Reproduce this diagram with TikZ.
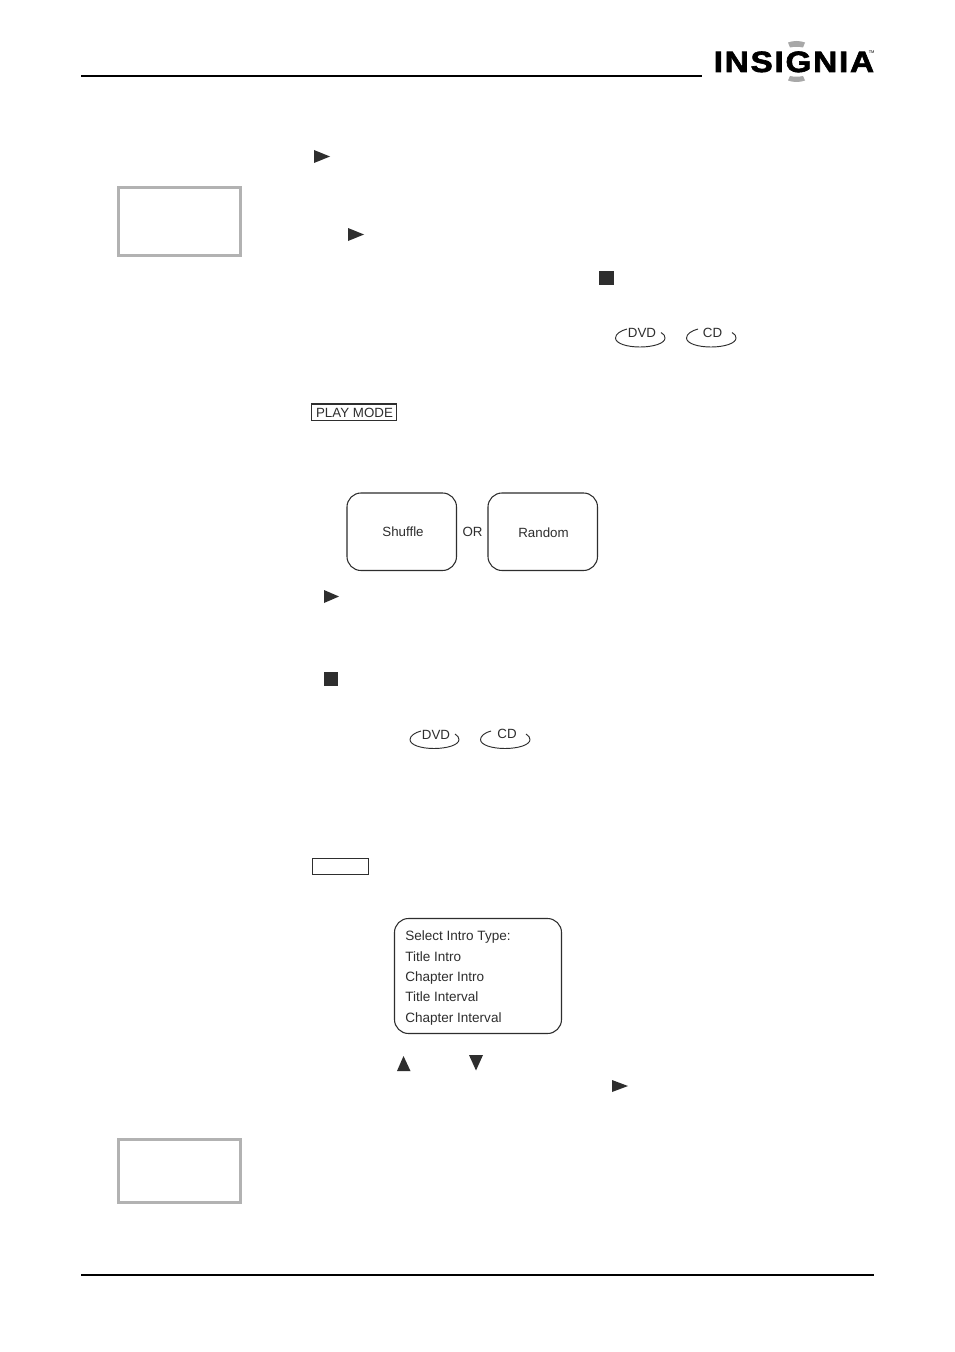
\documentclass[tikz,border=0pt]{standalone}
\usepackage{fontspec}
\setmainfont{Liberation Sans}
\newfontfamily\logofont[FakeBold=2.2,FakeStretch=1.135,LetterSpace=6]{Liberation Sans Bold}
\definecolor{ink}{HTML}{2E2E2E}
\definecolor{boxgray}{HTML}{B2B2B2}
\definecolor{arcgray}{HTML}{A8A8A8}
\tikzset{
  rule/.style={draw=black,line width=1.5pt},
  notebox/.style={draw=boxgray,line width=1.8pt,fill=white},
  tri/.style={fill=ink,draw=none},
  sq/.style={fill=ink,draw=none},
  roundbox/.style={draw=ink,line width=0.8pt,rounded corners=10.5pt},
  keybox/.style={draw=ink,line width=0.8pt},
  lbl/.style={inner sep=0pt,text=ink,font=\fontsize{10}{12}\selectfont},
  menu/.style={inner sep=0pt,text=ink,anchor=base west,font=\fontsize{10.15}{12}\selectfont},
  disc/.style={draw=ink,line width=0.7pt},
}
\begin{document}
\begin{tikzpicture}[x=0.75pt,y=-0.75pt]
\useasboundingbox (0,0) rectangle (954,1352);
\fill[white] (0,0) rectangle (954,1352);
% header / footer rules
\draw[rule] (81,76) -- (702,76);
\draw[rule] (81,1275) -- (873.5,1275);
% logo
\fill[arcgray] (788,42.5) .. controls (793,40.5) and (800,40.5) .. (805,42.5) -- (803,47.5) .. controls (799,46.5) and (794,46.5) .. (790,47.5) -- cycle;
\fill[arcgray] (788,80.5) .. controls (793,82.5) and (800,82.5) .. (805,80.5) -- (803,76) .. controls (799,77) and (794,77) .. (790,76) -- cycle;
\node[anchor=base west,inner sep=0pt,text=black,font=\fontsize{22}{24}\logofont] (logo) at (713.5,72) {INSIGNIA};
\node[anchor=base west,inner sep=0pt,text=black,font=\fontsize{3}{3}\selectfont] (tm) at (868.5,53.5) {TM};
% margin note boxes
\draw[notebox] (118.5,187.3) rectangle (240.4,255.4);
\draw[notebox] (118.5,1139.3) rectangle (240.4,1202.6);
% play triangles
\fill[tri] (314,150) -- (330,156.5) -- (314,163) -- cycle;
\fill[tri] (348,228) -- (364,234.5) -- (348,241) -- cycle;
\fill[tri] (324,590) -- (339,596.5) -- (324,603) -- cycle;
\fill[tri] (612,1080) -- (628,1086) -- (612,1092) -- cycle;
% stop squares
\fill[sq] (599,270.5) rectangle (613.5,285);
\fill[sq] (323.5,672) rectangle (338,686);
% up / down
\fill[tri] (397,1071) -- (403.5,1056) -- (410.5,1071) -- cycle;
\fill[tri] (469,1055) -- (483,1055) -- (476,1070.5) -- cycle;
% disc marks, upper
\node[lbl] (dvda) at (642,332.5) {DVD};
\node[lbl] (cda) at (712.5,332.5) {CD};
\draw[disc] (627,329) .. controls (621,330.5) and (615.5,334) .. (615.5,338) .. controls (615.5,343.5) and (627,347) .. (640,347) .. controls (653,347) and (665,343.5) .. (665,338) .. controls (665,336) and (664,334) .. (661,332.5);
\draw[disc] (698,329) .. controls (692,330.5) and (686.5,334) .. (686.5,338) .. controls (686.5,343.5) and (698,347) .. (711,347) .. controls (724,347) and (736,343.5) .. (736,338) .. controls (736,336) and (735,334) .. (732,332.5);
% disc marks, lower
\node[lbl] (dvdb) at (436,734.5) {DVD};
\node[lbl] (cdb) at (507,733.5) {CD};
\draw[disc] (421,731) .. controls (415,732.5) and (410,736) .. (410,739.5) .. controls (410,745) and (421,748.5) .. (434,748.5) .. controls (447,748.5) and (459,745) .. (459,739.5) .. controls (459,737.5) and (457.5,735.5) .. (455,734);
\draw[disc] (491,731) .. controls (485,732.5) and (480.5,736) .. (480.5,739.5) .. controls (480.5,745) and (492,748.5) .. (505,748.5) .. controls (518,748.5) and (530,745) .. (530,739.5) .. controls (530,737.5) and (528.5,735.5) .. (526,734);
% key boxes
\draw[keybox] (311.5,404) rectangle (396.5,420.5);
\node[lbl] (playmode) at (354.5,412.5) {PLAY MODE};
\draw[keybox] (312.5,858.5) rectangle (368.5,874.5);
% shuffle / random
\draw[roundbox] (347,493) rectangle (456.5,570.5);
\draw[roundbox] (488,493) rectangle (597.5,570.5);
\node[lbl] (shuffle) at (403,532) {Shuffle};
\node[lbl] (or) at (472.5,532) {OR};
\node[lbl] (random) at (543.5,533) {Random};
% intro menu
\draw[roundbox] (394.5,918.5) rectangle (561.5,1033.5);
\node[menu] (i1) at (405,940) {Select Intro Type:};
\node[menu] (i2) at (405,961) {Title Intro};
\node[menu] (i3) at (405,981) {Chapter Intro};
\node[menu] (i4) at (405,1001) {Title Interval};
\node[menu] (i5) at (405,1022) {Chapter Interval};
\end{tikzpicture}
\end{document}
